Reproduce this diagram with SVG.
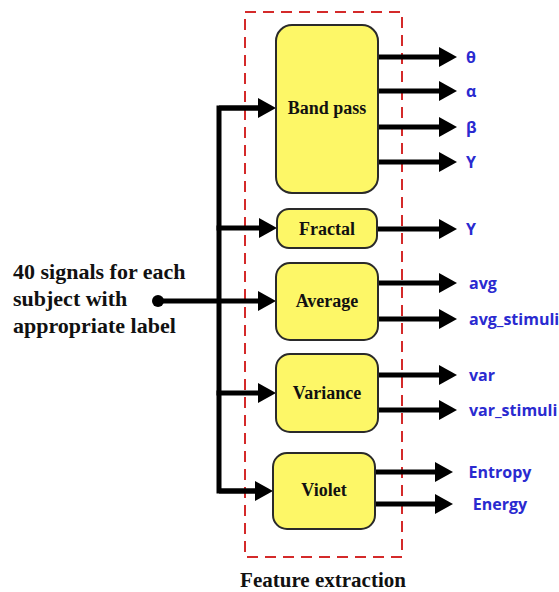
<svg xmlns="http://www.w3.org/2000/svg" width="559" height="592" viewBox="0 0 559 592">
<defs>
<marker id="ah" markerUnits="userSpaceOnUse" viewBox="0 0 18 20" refX="8" refY="10" markerWidth="18" markerHeight="20" orient="auto">
<path d="M0,0 L18,10 L0,20 z" fill="#000"/>
</marker>
<style>
.box{fill:#fdf767;stroke:#2a2a2a;stroke-width:2}
.bl{font-family:"Liberation Serif","Times New Roman",serif;font-weight:bold;font-size:18px;fill:#111;text-anchor:middle}
.out{font-family:"Open Sans","Liberation Sans",sans-serif;font-weight:bold;font-size:16px;fill:#2a2ad0}
.ln{stroke:#000;stroke-width:5;fill:none}
.ar{stroke:#000;stroke-width:5;fill:none;marker-end:url(#ah)}
.big{font-family:"Liberation Serif","Times New Roman",serif;font-weight:bold;font-size:22px;fill:#111}
</style>
</defs>
<rect x="245" y="12" width="157" height="545" fill="none" stroke="#d42a2a" stroke-width="2" stroke-dasharray="11,7"/>
<g id="input">
<text class="big" x="13" y="279">40 signals for each</text>
<text class="big" x="13" y="306">subject with</text>
<text class="big" x="13" y="333">appropriate label</text>
<circle cx="158" cy="301" r="6" fill="#000"/>
</g>
<g id="connectors">
<path class="ln" d="M262,108 H219 V491 H262" stroke-linejoin="miter"/>
<line class="ar" x1="219" y1="108" x2="266" y2="108"/>
<line class="ar" x1="216.5" y1="228" x2="267" y2="228"/>
<line class="ar" x1="158" y1="301" x2="266" y2="301"/>
<line class="ar" x1="216.5" y1="393" x2="266" y2="393"/>
<line class="ar" x1="219" y1="491" x2="263" y2="491"/>
<line class="ar" x1="378" y1="57" x2="447" y2="57"/>
<line class="ar" x1="378" y1="91" x2="447" y2="91"/>
<line class="ar" x1="378" y1="127" x2="447" y2="127"/>
<line class="ar" x1="378" y1="162" x2="447" y2="162"/>
<line class="ar" x1="377" y1="229" x2="447" y2="229"/>
<line class="ar" x1="378" y1="283" x2="447" y2="283"/>
<line class="ar" x1="378" y1="319" x2="447" y2="319"/>
<line class="ar" x1="378" y1="375" x2="447" y2="375"/>
<line class="ar" x1="378" y1="410" x2="447" y2="410"/>
<line class="ar" x1="375" y1="472" x2="443" y2="472"/>
<line class="ar" x1="375" y1="504" x2="443" y2="504"/>
</g>
<g id="bandpass">
<rect class="box" x="276" y="25" width="102" height="168" rx="16"/>
<text class="bl" x="327" y="114">Band pass</text>
</g>
<g id="fractal">
<rect class="box" x="277" y="209" width="100" height="39" rx="12"/>
<text class="bl" x="327" y="235">Fractal</text>
</g>
<g id="average">
<rect class="box" x="276" y="263" width="102" height="77" rx="14"/>
<text class="bl" x="327" y="307">Average</text>
</g>
<g id="variance">
<rect class="box" x="276" y="354" width="102" height="78" rx="14"/>
<text class="bl" x="327" y="399">Variance</text>
</g>
<g id="violet">
<rect class="box" x="273" y="453" width="102" height="76" rx="14"/>
<text class="bl" x="324" y="496">Violet</text>
</g>
<g id="outputs">
<text class="out" x="466" y="63">θ</text>
<text class="out" x="466" y="97">α</text>
<text class="out" x="466" y="133">β</text>
<text class="out" x="466" y="168">Υ</text>
<text class="out" x="466" y="235">Υ</text>
<text class="out" x="469" y="289">avg</text>
<text class="out" x="469" y="325">avg_stimuli</text>
<text class="out" x="469" y="381">var</text>
<text class="out" x="469" y="416">var_stimuli</text>
<text class="out" x="500" y="478" text-anchor="middle">Entropy</text>
<text class="out" x="500" y="510" text-anchor="middle">Energy</text>
</g>
<text class="big" x="323" y="587" text-anchor="middle" style="font-size:21px">Feature extraction</text>
</svg>
